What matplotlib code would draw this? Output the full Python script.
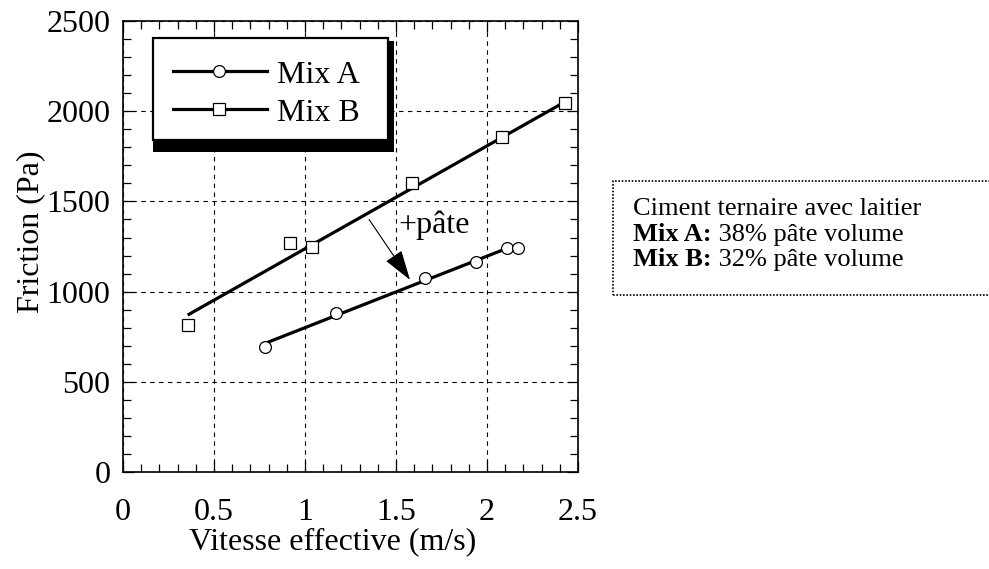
import matplotlib
matplotlib.use("Agg")
import matplotlib.pyplot as plt
from matplotlib.patches import Rectangle
from matplotlib.lines import Line2D
from matplotlib.ticker import MultipleLocator

plt.rcParams['font.family'] = ['Liberation Serif', 'DejaVu Serif']

# data
mix_a_v = [0.78, 1.17, 1.66, 1.94, 2.11, 2.17]
mix_a_f = [695, 880, 1077, 1162, 1240, 1240]
mix_b_v = [0.355, 0.92, 1.04, 1.59, 2.08, 2.43]
mix_b_f = [815, 1271, 1245, 1604, 1859, 2044]

# regression lines
fit_a_v = [0.78, 2.11]
fit_a_f = [713, 1240]
fit_b_v = [0.355, 2.43]
fit_b_f = [870, 2053]

labels = ["Mix A", "Mix B"]
note_lines = [("", "Ciment ternaire avec laitier"),
              ("Mix A:", " 38% pâte volume"),
              ("Mix B:", " 32% pâte volume")]

fs = 23

fig = plt.figure(figsize=(9.89, 5.69), dpi=100)
ax = fig.add_axes([0.1244, 0.1705, 0.46, 0.7925])

ax.plot(fit_b_v, fit_b_f, color='k', lw=2.3, solid_capstyle='butt', zorder=3)
ax.plot(fit_a_v, fit_a_f, color='k', lw=2.3, solid_capstyle='butt', zorder=3)
ax.plot(mix_b_v, mix_b_f, ls='none', marker='s', ms=8, mfc='white', mec='k', mew=0.9, zorder=4)
ax.plot(mix_a_v, mix_a_f, ls='none', marker='o', ms=8.5, mfc='white', mec='k', mew=0.9, zorder=4)

ax.set_xlim(0, 2.5)
ax.set_ylim(0, 2500)
ax.set_xticks([0, 0.5, 1, 1.5, 2, 2.5])
ax.set_xticklabels(["0", "0.5", "1", "1.5", "2", "2.5"])
ax.xaxis.set_minor_locator(MultipleLocator(0.1))
ax.yaxis.set_major_locator(MultipleLocator(500))
ax.yaxis.set_minor_locator(MultipleLocator(100))
ax.tick_params(which='both', direction='in', top=True, right=True, width=0.9)
ax.tick_params(which='major', length=8)
ax.tick_params(which='minor', length=6)
ax.tick_params(axis='x', pad=19, labelsize=fs)
ax.tick_params(axis='y', pad=9, labelsize=fs)
for s in ax.spines.values():
    s.set_linewidth(1.2)
ax.grid(True, which='major', ls=(0, (4, 4)), color='k', lw=0.8)

ax.set_xlabel("Vitesse effective (m/s)", fontsize=fs)
ax.set_ylabel("Friction (Pa)", fontsize=fs)
ax.xaxis.set_label_coords(0.4615, -0.122)
ax.yaxis.set_label_coords(-0.172, 0.533)

# arrow +pâte
ax.annotate("", xy=(1.577, 1065), xytext=(1.352, 1400),
            arrowprops=dict(arrowstyle='-|>,head_length=1.9,head_width=0.6',
                            mutation_scale=10, lw=0.8, color='k',
                            shrinkA=0, shrinkB=0), zorder=5)
ax.text(1.511, 1323, "+pâte", fontsize=fs, va='baseline', ha='left', zorder=5)

# legend with drop shadow
ax.add_patch(Rectangle((0.0666, 0.710), 0.5294, 0.245, transform=ax.transAxes,
                       facecolor='k', edgecolor='none', zorder=6))
ax.add_patch(Rectangle((0.0666, 0.736), 0.5164, 0.2256, transform=ax.transAxes,
                       facecolor='white', edgecolor='k', lw=1.6, zorder=7))
for lab, mk, yl, yt in [(labels[0], 'o', 0.889, 0.862), (labels[1], 's', 0.806, 0.779)]:
    ax.add_line(Line2D([0.1105, 0.3158], [yl, yl], transform=ax.transAxes,
                       color='k', lw=2.3, zorder=8))
    ax.add_line(Line2D([0.2116], [yl], transform=ax.transAxes, marker=mk,
                       ms=8 if mk == 's' else 8.5, mfc='white', mec='k', mew=0.9, zorder=9))
    ax.text(0.3378, yt, lab, transform=ax.transAxes, fontsize=fs, va='baseline', zorder=9)

# note box on the right
fig.patches.append(Rectangle((0.6198, 0.4815), 0.40, 0.2005, transform=fig.transFigure,
                             facecolor='none', edgecolor='k', ls=(0, (1, 1)), lw=1.2))
ys = [0.6221, 0.5764, 0.5325]
for (b, r), y in zip(note_lines, ys):
    if b:
        t = fig.text(0.640, y, b, fontsize=19, fontweight='bold', va='baseline')
        ax.annotate(r, xy=(1, 0), xycoords=t, fontsize=19, va='bottom', annotation_clip=False)
    else:
        fig.text(0.640, y, r, fontsize=19, va='baseline')

fig.savefig("out.png", dpi=100)
